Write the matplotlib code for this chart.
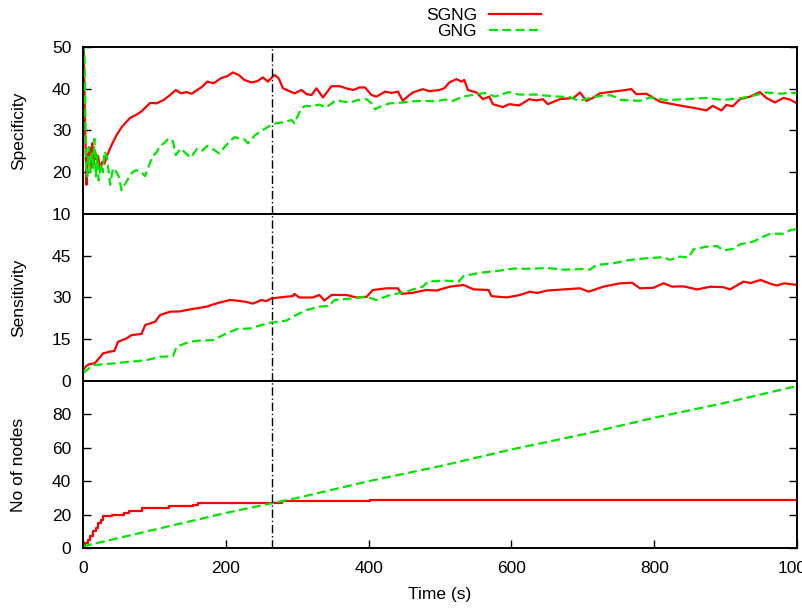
import matplotlib
matplotlib.use('Agg')
import matplotlib.pyplot as plt

plt.rcParams['font.family'] = ['Liberation Sans', 'DejaVu Sans']
plt.rcParams['font.size'] = 12.5

# Specificity
spec_t_sgng = [0, 1, 3, 5, 7, 9, 11, 13, 15, 17,
               19, 21, 24, 27, 30, 33, 40, 47, 55, 66,
               75, 82, 94, 103, 113, 122, 130, 137, 145, 152,
               160, 167, 174, 183, 193, 202, 210, 218, 226, 236,
               244, 252, 259, 268, 274, 280, 288, 296, 306, 313,
               320, 327, 336, 348, 360, 370, 379, 387, 395, 404,
               411, 423, 432, 441, 448, 455, 462, 476, 485, 499,
               506, 513, 523, 530, 534, 539, 551, 560, 569, 574,
               588, 597, 611, 625, 635, 644, 651, 668, 687, 696,
               705, 715, 724, 742, 756, 768, 775, 789, 808, 826,
               845, 859, 873, 882, 894, 901, 910, 920, 934, 948,
               957, 969, 981, 990, 1000]
spec_sgng = [48, 50, 30, 17, 24, 26, 21, 27, 22, 25,
             23, 24, 20.5, 22.5, 22, 23.7, 26.5, 28.9, 31, 33,
             33.8, 34.6, 36.6, 36.5, 37.3, 38.5, 39.7, 38.9, 39.2, 38.8,
             39.7, 40.5, 41.7, 41.3, 42.5, 43, 43.9, 43.3, 42.1, 41.5,
             41.8, 42.7, 41.7, 43.3, 42.5, 40.1, 39.5, 38.9, 39.7, 38.7,
             38.5, 40.1, 37.9, 40.6, 40.6, 40.0, 39.7, 40.3, 40.3, 38.5,
             38.1, 39.3, 39.0, 39.3, 37.1, 38.2, 39.1, 39.9, 39.4, 39.7,
             40.1, 41.5, 42.3, 41.7, 42.1, 39.7, 39.1, 37.5, 38.1, 36.3,
             35.6, 36.3, 36.0, 37.5, 37.2, 37.5, 36.3, 37.5, 37.8, 39.1,
             37.1, 37.9, 38.9, 39.3, 39.6, 39.9, 38.7, 38.8, 36.9, 36.3,
             35.7, 35.3, 34.8, 35.9, 34.8, 36.1, 35.8, 37.5, 38.1, 39.2,
             37.8, 36.7, 37.8, 37.4, 36.5]

spec_t_gng = [0, 1, 2, 3, 4, 6, 8, 10, 12, 14,
              16, 18, 20, 22, 25, 28, 30, 33, 36, 38,
              42, 47, 50, 54, 60, 68, 74, 80, 87, 97,
              103, 108, 114, 120, 126, 130, 137, 144, 151, 160,
              167, 174, 182, 191, 197, 203, 212, 220, 226, 231,
              241, 252, 266, 278, 285, 292, 296, 306, 312, 320,
              331, 340, 355, 365, 374, 385, 397, 404, 409, 420,
              430, 448, 462, 476, 495, 507, 518, 532, 551, 565,
              577, 596, 611, 634, 651, 668, 682, 694, 710, 728,
              740, 754, 780, 794, 817, 845, 873, 896, 920, 938,
              957, 976, 990, 1000]
spec_gng = [36, 50, 48, 40, 22, 19, 26, 20, 25, 21,
            28, 19, 24, 18, 22, 20, 25, 24, 20, 17,
            21, 20, 19, 15.7, 17.5, 19.8, 20.5, 20.2, 19.1, 23.7,
            24.8, 26.3, 27.0, 28.1, 27.4, 24.1, 25.7, 24.5, 23.5, 25.7,
            25.2, 26.3, 25.5, 24.5, 25.8, 26.9, 28.4, 28.0, 27.9, 26.9,
            28.9, 30.1, 31.6, 31.9, 32.2, 32.5, 31.7, 35.4, 35.9, 35.8,
            36.2, 35.5, 37.3, 36.9, 36.7, 37.3, 37.5, 36.5, 35.1, 36.0,
            36.5, 36.7, 37.0, 37.1, 37.0, 37.4, 37.1, 38.1, 38.7, 39.0,
            38.1, 39.2, 38.6, 38.6, 38.3, 38.1, 38.0, 37.1, 37.8, 38.4,
            38.4, 37.3, 37.1, 37.9, 37.3, 37.5, 37.8, 37.3, 37.7, 38.3,
            39.1, 38.8, 39.0, 39.0]

# Sensitivity
sens_t_sgng = [0, 5, 9, 16, 22, 28, 37, 44, 49, 61,
               68, 82, 87, 101, 108, 122, 136, 145, 159, 173,
               187, 206, 215, 229, 238, 250, 257, 264, 275, 285,
               294, 296, 303, 322, 331, 338, 348, 369, 383, 397,
               406, 425, 441, 446, 462, 481, 495, 514, 533, 547,
               568, 572, 593, 612, 626, 636, 650, 673, 696, 708,
               729, 752, 769, 780, 799, 813, 825, 841, 860, 879,
               897, 906, 925, 935, 949, 963, 972, 982, 1000]
sens_sgng = [4, 5.5, 6.1, 6.3, 8, 9.9, 10.5, 10.8, 14.1, 15.3,
             16.5, 16.9, 20.1, 21.3, 23.7, 24.9, 25.0, 25.5, 26.1, 26.7,
             27.9, 29.1, 28.9, 28.4, 27.8, 29.1, 28.7, 29.7, 30.0, 30.3,
             30.5, 31.3, 30.0, 30.0, 30.9, 28.9, 30.9, 30.9, 30.0, 30.2,
             32.7, 33.3, 33.3, 31.3, 31.7, 32.7, 32.5, 33.9, 34.5, 32.9,
             32.7, 30.5, 30.0, 30.9, 32.1, 31.6, 32.5, 32.9, 33.3, 32.1,
             33.9, 35.1, 35.3, 33.3, 33.5, 35.1, 33.9, 34.0, 32.9, 33.9,
             33.7, 32.9, 35.7, 35.2, 36.3, 34.9, 34.3, 35.1, 34.5]

sens_t_gng = [0, 14, 42, 65, 89, 108, 126, 131, 149, 163,
              182, 201, 215, 234, 250, 264, 285, 296, 313, 331,
              345, 352, 378, 397, 411, 430, 453, 462, 476, 483,
              505, 526, 533, 556, 579, 603, 626, 650, 673, 696,
              710, 719, 743, 766, 790, 813, 822, 836, 848, 855,
              874, 888, 897, 911, 920, 939, 953, 963, 982, 991,
              1000]
sens_gng = [2.8, 5.7, 6.3, 6.9, 7.5, 8.7, 8.9, 12.3, 14.1, 14.5,
            14.7, 17.1, 18.6, 18.9, 20.1, 21.0, 21.7, 23.4, 25.5, 26.7,
            27.0, 29.1, 29.7, 30.3, 29.1, 30.9, 32.1, 32.9, 33.9, 35.7,
            36.1, 35.7, 37.7, 38.9, 39.5, 40.4, 40.3, 40.6, 40.0, 40.2,
            40.0, 41.7, 42.3, 43.5, 44.1, 44.5, 43.5, 44.7, 44.3, 47.3,
            48.3, 48.5, 46.9, 47.5, 49.1, 50.1, 51.9, 52.9, 52.9, 54.3,
            54.5]

# No of nodes
nodes_t_sgng = [0, 3, 7, 10, 14, 18, 21, 25, 28, 40, 58, 65, 82, 121, 154, 161, 278, 402, 1000]
nodes_sgng = [1, 3, 5, 7, 10, 12, 15, 17, 19, 20, 21, 22, 24, 25, 26, 27, 28, 29, 29]

nodes_t_gng = [0, 100, 200, 300, 400, 500, 600, 700, 800, 900, 1000]
nodes_gng = [1, 11, 21, 30, 40, 49, 59, 68, 78, 87, 97]

marker_t = 265
red = '#ff0000'
green = '#00e600'

fig = plt.figure(figsize=(8.02, 6.10), dpi=100)
left, width, h = 0.1035, 0.8903, 0.2738
ax1 = fig.add_axes([left, 0.6492, width, h])
ax2 = fig.add_axes([left, 0.3754, width, h])
ax3 = fig.add_axes([left, 0.1016, width, h])

panels = [
    (ax1, spec_t_sgng, spec_sgng, spec_t_gng, spec_gng, 'default', (10, 50), [10, 20, 30, 40, 50], 'Specificity'),
    (ax2, sens_t_sgng, sens_sgng, sens_t_gng, sens_gng, 'default', (0, 60), [0, 15, 30, 45], 'Sensitivity'),
    (ax3, nodes_t_sgng, nodes_sgng, nodes_t_gng, nodes_gng, 'steps-post', (0, 100), [0, 20, 40, 60, 80], 'No of nodes'),
]

for ax, ts, ys, tg, yg, ds, ylim, yticks, ylabel in panels:
    l1, = ax.plot(ts, ys, color=red, lw=1.6, drawstyle=ds, label='SGNG')
    l2, = ax.plot(tg, yg, color=green, lw=1.6, dashes=(4, 2), label='GNG')
    ax.axvline(marker_t, color='black', lw=1, dashes=(6, 2, 1, 2))
    ax.set_xlim(0, 1000)
    ax.set_ylim(*ylim)
    ax.set_yticks(yticks)
    ax.set_ylabel(ylabel)
    ax.yaxis.set_label_coords(-0.08, 0.5)
    ax.tick_params(axis='y', direction='in', left=True, right=True, length=6, width=1, pad=8.5)
    for s in ax.spines.values():
        s.set_linewidth(1.4)

for ax in (ax1, ax2):
    ax.tick_params(axis='x', bottom=False, labelbottom=False)

ax3.set_xticks([0, 200, 400, 600, 800, 1000])
ax3.tick_params(axis='x', direction='in', length=6, width=1, pad=9)
ax3.set_xlabel('Time (s)', labelpad=8)

fig.legend(handles=[l1, l2], loc='upper center', bbox_to_anchor=(0.603, 1.005),
           markerfirst=False, frameon=False, handlelength=3.0, handletextpad=0.7,
           labelspacing=0.05, borderpad=0.15)

fig.savefig('out.png', dpi=100)
